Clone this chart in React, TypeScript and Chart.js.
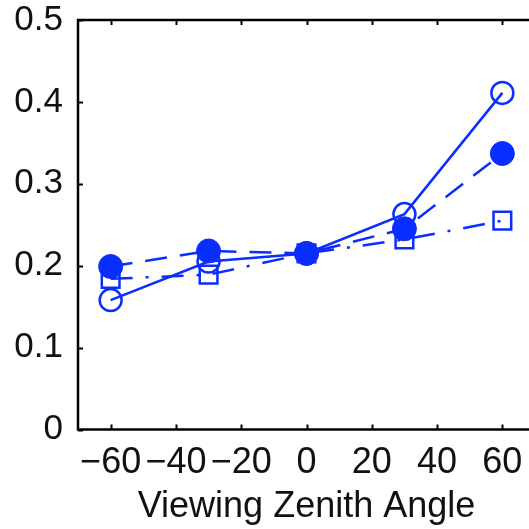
import React, { useEffect, useRef } from "react";
import { Chart, registerables } from "chart.js";

Chart.register(...registerables);

// Viewing zenith angles (degrees)
const angles = [-60, -30, 0, 30, 60];
// Three reflectance series
const seriesOpenCircle = [0.158, 0.205, 0.215, 0.263, 0.411];
const seriesFilledCircle = [0.199, 0.218, 0.215, 0.245, 0.337];
const seriesSquare = [0.184, 0.189, 0.215, 0.232, 0.255];

const xTicks = [-60, -40, -20, 0, 20, 40, 60];
const yTicks = [0, 0.1, 0.2, 0.3, 0.4, 0.5];

const BLUE = "#0a2eff";
const FONT = "'Liberation Sans', Arial, sans-serif";

const toPoints = (vals: number[]) => angles.map((a, i) => ({ x: a, y: vals[i] }));

// MATLAB-like frame with inward tick marks on all four sides
const framePlugin = {
  id: "frame",
  afterDraw(chart: any) {
    const { ctx, chartArea: a, scales } = chart;
    const tl = 5;
    ctx.save();
    ctx.strokeStyle = "#000";
    ctx.lineWidth = 2;
    ctx.beginPath();
    for (const v of xTicks) {
      const px = Math.round(scales.x.getPixelForValue(v)) + 0.5;
      ctx.moveTo(px, a.bottom);
      ctx.lineTo(px, a.bottom - tl);
      ctx.moveTo(px, a.top);
      ctx.lineTo(px, a.top + tl);
    }
    for (const v of yTicks) {
      const py = Math.round(scales.y.getPixelForValue(v)) + 0.5;
      ctx.moveTo(a.left, py);
      ctx.lineTo(a.left + tl, py);
      ctx.moveTo(a.right, py);
      ctx.lineTo(a.right - tl, py);
    }
    ctx.stroke();
    ctx.lineWidth = 2.5;
    ctx.strokeRect(a.left, a.top, a.right - a.left, a.bottom - a.top);
    ctx.restore();
  },
};

export default function App() {
  const ref = useRef<HTMLCanvasElement | null>(null);

  useEffect(() => {
    if (!ref.current) return;
    const chart = new Chart(ref.current, {
      type: "scatter",
      data: {
        datasets: [
          {
            data: toPoints(seriesOpenCircle),
            showLine: true,
            borderColor: BLUE,
            borderWidth: 2.5,
            pointStyle: "circle",
            pointRadius: 11,
            pointBorderWidth: 2.5,
            pointBorderColor: BLUE,
            pointBackgroundColor: "rgba(0,0,0,0)",
            order: 3,
          },
          {
            data: toPoints(seriesSquare),
            showLine: true,
            borderColor: BLUE,
            borderWidth: 2.5,
            borderDash: [22, 13, 3, 13],
            pointStyle: "rect",
            pointRadius: 12.5,
            pointBorderWidth: 2.5,
            pointBorderColor: BLUE,
            pointBackgroundColor: "rgba(0,0,0,0)",
            order: 2,
          },
          {
            data: toPoints(seriesFilledCircle),
            showLine: true,
            borderColor: BLUE,
            borderWidth: 2.5,
            borderDash: [22, 13],
            pointStyle: "circle",
            pointRadius: 12,
            pointBorderWidth: 1,
            pointBorderColor: BLUE,
            pointBackgroundColor: BLUE,
            order: 1,
          },
        ],
      },
      options: {
        animation: false,
        responsive: true,
        maintainAspectRatio: false,
        devicePixelRatio: 1,
        clip: false,
        layout: { padding: { top: 20, right: 10, left: 0, bottom: 0 } },
        plugins: { legend: { display: false }, tooltip: { enabled: false } },
        scales: {
          x: {
            type: "linear",
            min: -70,
            max: 70,
            afterBuildTicks: (s: any) => {
              s.ticks = xTicks.map((v) => ({ value: v }));
            },
            afterFit: (s: any) => {
              s.height = 99.5;
              s.paddingLeft = 0;
              s.paddingRight = 0;
            },
            grid: { display: false, drawTicks: false },
            border: { display: false },
            ticks: {
              autoSkip: false,
              maxRotation: 0,
              padding: 12,
              color: "#111",
              font: { family: FONT, size: 36 },
              callback: (v: any) => (v < 0 ? "\u2212" + Math.abs(v) : String(v)),
            },
            title: {
              display: true,
              text: "Viewing Zenith Angle",
              color: "#111",
              font: { family: FONT, size: 36 },
              padding: { top: 0, bottom: 0 },
            },
          },
          y: {
            type: "linear",
            min: 0,
            max: 0.5,
            afterBuildTicks: (s: any) => {
              s.ticks = yTicks.map((v) => ({ value: v }));
            },
            afterFit: (s: any) => {
              s.width = 78;
              s.paddingTop = 0;
              s.paddingBottom = 0;
            },
            grid: { display: false, drawTicks: false },
            border: { display: false },
            ticks: {
              padding: 15,
              color: "#111",
              font: { family: FONT, size: 35 },
              callback: (v: any) => (v === 0 ? "0" : Number(v).toFixed(1)),
            },
          },
        },
      },
      plugins: [framePlugin],
    });
    return () => chart.destroy();
  }, []);

  return (
    <div
      style={{
        position: "fixed",
        left: 0,
        top: 0,
        width: 529,
        height: 529,
        overflow: "hidden",
        background: "#fff",
      }}
    >
      <div style={{ position: "relative", width: 550, height: 529 }}>
        <canvas ref={ref} />
      </div>
    </div>
  );
}
